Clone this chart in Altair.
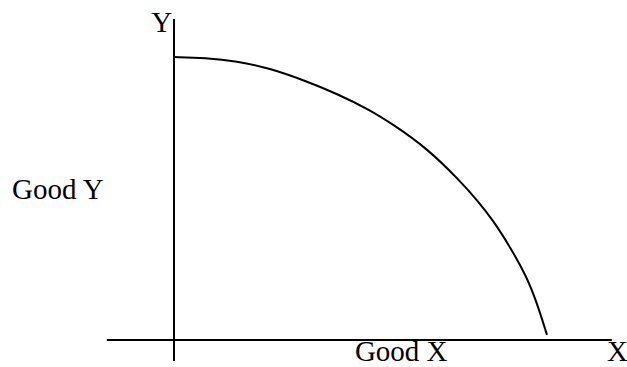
import altair as alt
import pandas as pd

# Production possibility frontier: quantity of Good X vs Good Y
good_x = [0, 0.84, 1.68, 2.57, 3.46, 4.36, 5.25, 5.87, 6.78, 7.67, 8.12, 8.55, 9.01, 9.46, 9.73, 10.0]
good_y = [10.0, 9.97, 9.86, 9.60, 9.19, 8.71, 8.13, 7.62, 6.78, 5.62, 4.95, 4.24, 3.29, 2.23, 1.31, 0.18]

# Axis extents
x_axis_span = [-1.80, 11.74]
y_axis_span = [-0.74, 11.34]

# Labels
label_text = ["Good Y", "Good X", "X"]
label_x = [-4.34, 4.85, 11.61]
label_y = [4.98, -0.74, -0.74]
y_label = ["Y"]
y_label_x = [-0.05]
y_label_y = [10.88]

W, H = 627, 367
xs = alt.Scale(domain=[-4.665, 12.145], nice=False, zero=False)
ys = alt.Scale(domain=[-0.954, 12.014], nice=False, zero=False)

curve_df = pd.DataFrame({"x": good_x, "y": good_y, "order": range(len(good_x))})
curve = alt.Chart(curve_df).mark_line(color="black", strokeWidth=2, interpolate="basis").encode(
    x=alt.X("x:Q", scale=xs, axis=None),
    y=alt.Y("y:Q", scale=ys, axis=None),
    order="order:Q",
)

haxis = alt.Chart(pd.DataFrame({"x": [x_axis_span[0]], "x2": [x_axis_span[1]], "y": [0]})).mark_rule(
    color="black", strokeWidth=2
).encode(x=alt.X("x:Q", scale=xs, axis=None), x2="x2:Q", y=alt.Y("y:Q", scale=ys, axis=None))

vaxis = alt.Chart(pd.DataFrame({"x": [0], "y": [y_axis_span[0]], "y2": [y_axis_span[1]]})).mark_rule(
    color="black", strokeWidth=2
).encode(x=alt.X("x:Q", scale=xs, axis=None), y=alt.Y("y:Q", scale=ys, axis=None), y2="y2:Q")

labels = alt.Chart(pd.DataFrame({"t": label_text, "x": label_x, "y": label_y})).mark_text(
    align="left", baseline="alphabetic", font="Liberation Serif", fontSize=29, color="black"
).encode(x=alt.X("x:Q", scale=xs, axis=None), y=alt.Y("y:Q", scale=ys, axis=None), text="t:N")

ylab = alt.Chart(pd.DataFrame({"t": y_label, "x": y_label_x, "y": y_label_y})).mark_text(
    align="right", baseline="alphabetic", font="Liberation Serif", fontSize=29, color="black"
).encode(x=alt.X("x:Q", scale=xs, axis=None), y=alt.Y("y:Q", scale=ys, axis=None), text="t:N")

chart = (
    alt.layer(haxis, vaxis, curve, labels, ylab)
    .properties(width=W, height=H, autosize=alt.AutoSizeParams(type="none"), padding=0, background="white")
    .configure_view(stroke=None)
)

chart.save("out.html", embed_options={"renderer": "svg", "actions": False})
